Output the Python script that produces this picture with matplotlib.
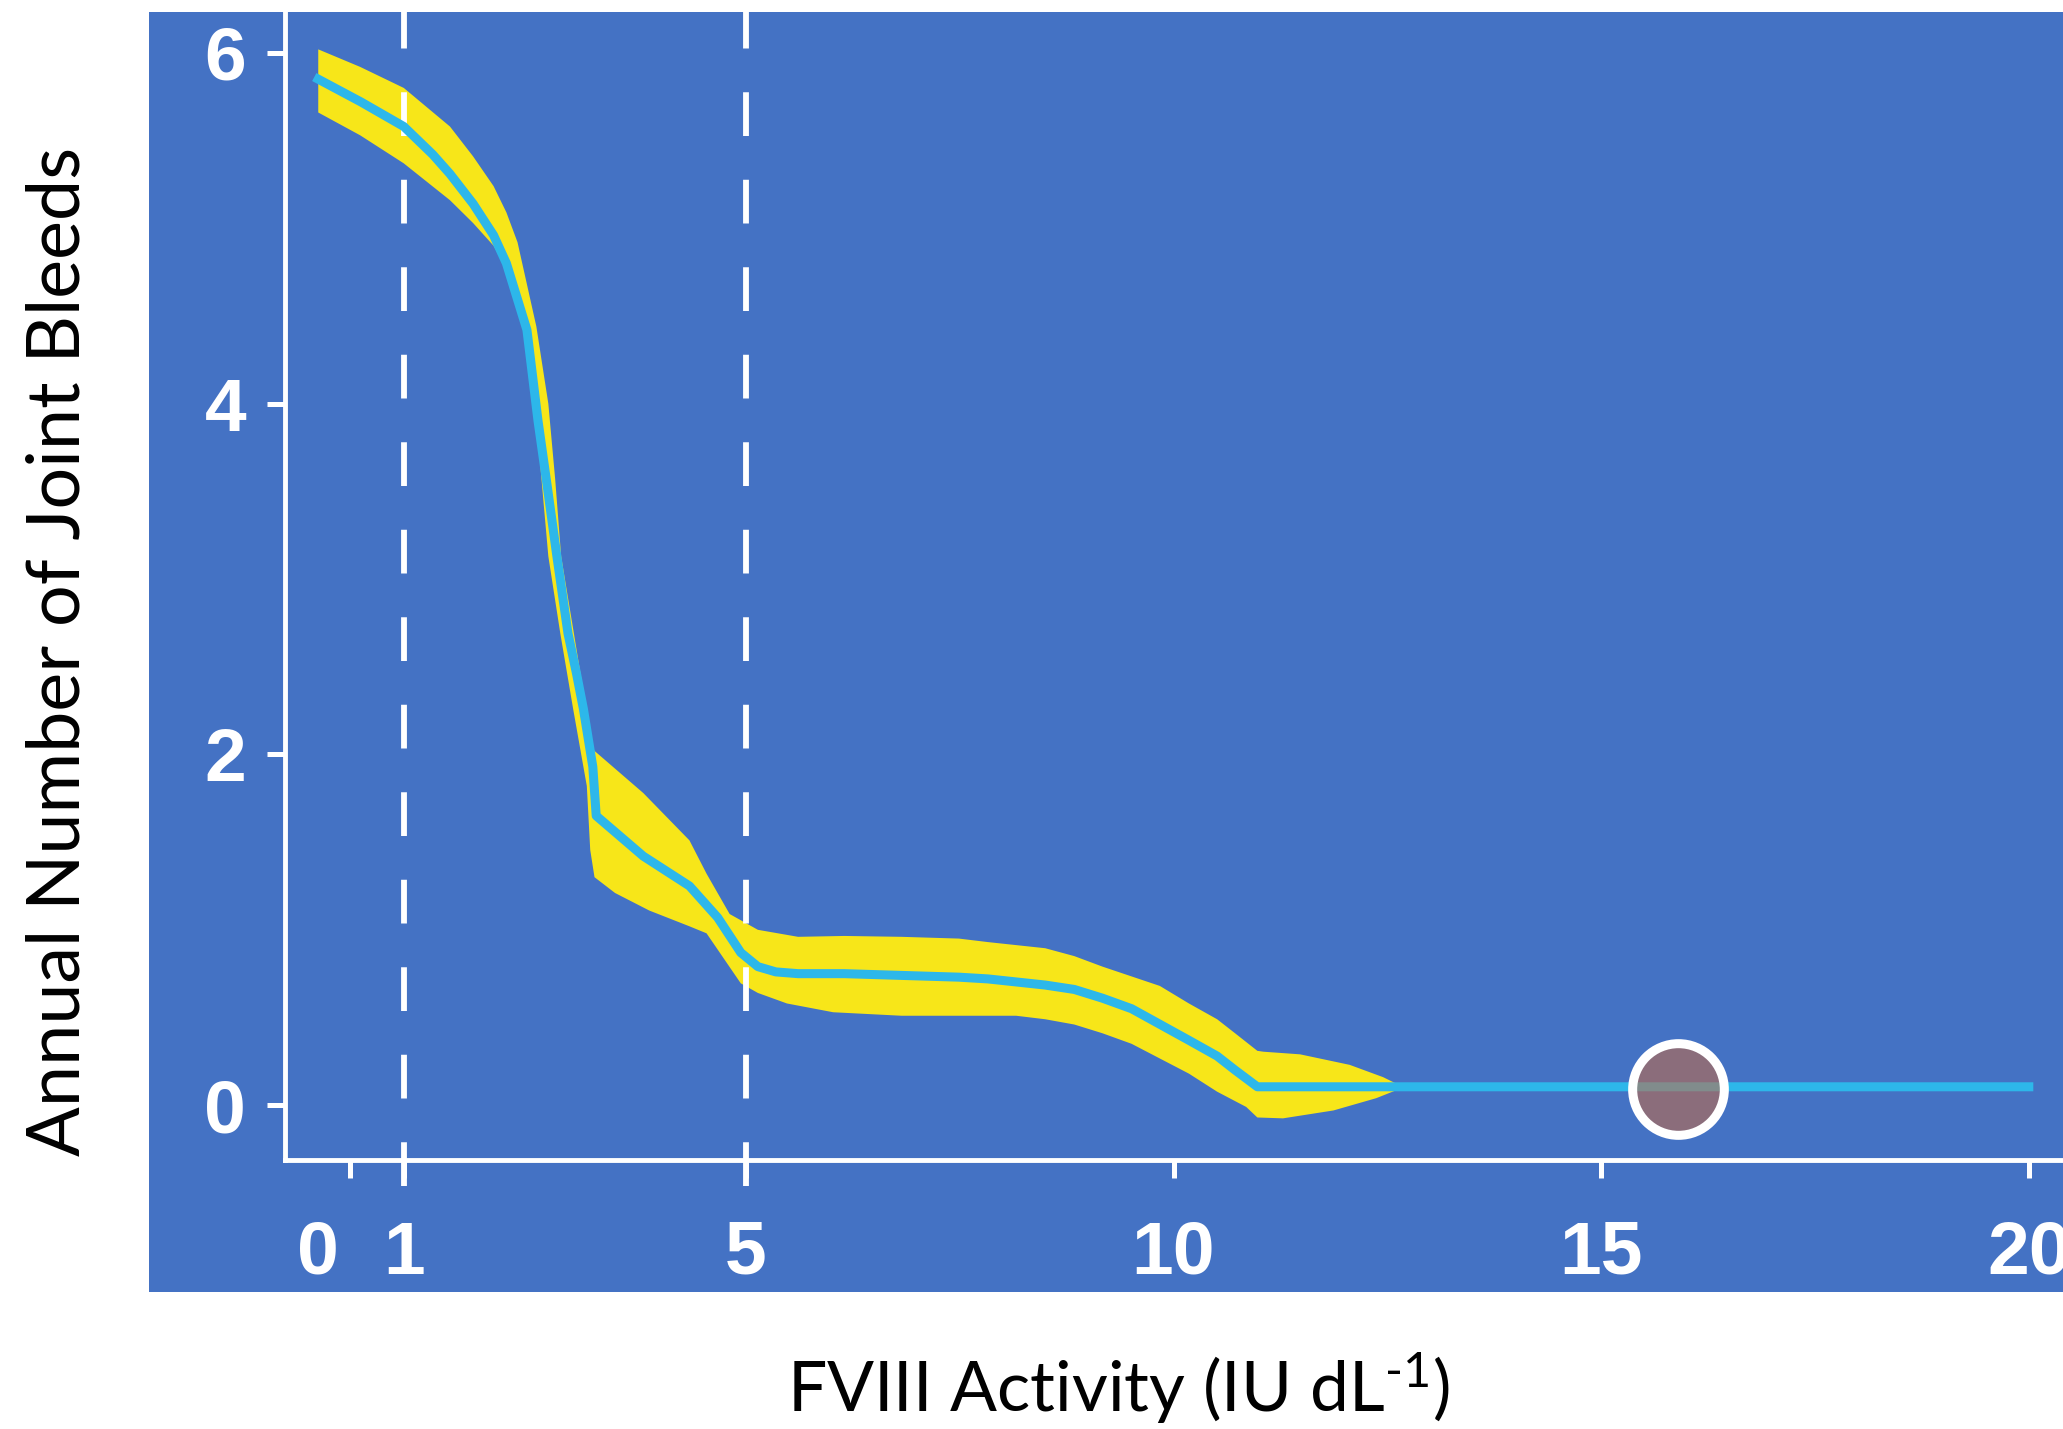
import matplotlib
matplotlib.use("Agg")
import matplotlib.pyplot as plt
from matplotlib.patches import Rectangle

#--------------- Dados -------------------------------------
# linha média (ciano)
mean_x = [0.0, 0.5, 1.0, 1.34, 1.54, 1.81, 2.05, 2.20, 2.44, 2.57, 2.68, 2.79, 2.92, 3.02, 3.10,
          3.21, 3.25, 3.80, 4.34, 4.67, 4.94, 5.14, 5.35, 5.61, 6.15, 6.82, 7.49, 7.83, 8.50,
          8.84, 9.17, 9.51, 10.18, 10.51, 10.72, 10.98, 20.0]
mean_y = [5.85, 5.72, 5.58, 5.42, 5.31, 5.14, 4.96, 4.80, 4.42, 3.90, 3.52, 3.13, 2.69, 2.46, 2.26,
          1.93, 1.65, 1.42, 1.25, 1.07, 0.87, 0.79, 0.76, 0.75, 0.75, 0.74, 0.73, 0.72, 0.685,
          0.66, 0.61, 0.55, 0.37, 0.28, 0.20, 0.105, 0.105]

# banda de incerteza (amarela) - borda superior e inferior
upper_x = [0.0, 0.49, 1.0, 1.54, 1.81, 2.05, 2.20, 2.33, 2.55, 2.69, 2.77, 2.84, 3.06, 3.21, 3.23,
           3.80, 4.34, 4.54, 4.81, 5.14, 5.61, 6.15, 6.82, 7.49, 7.83, 8.50, 8.84, 9.17, 9.84,
           10.18, 10.51, 10.72, 10.98, 11.05, 11.48, 12.06, 12.45, 12.68]
upper_y = [6.02, 5.92, 5.80, 5.58, 5.41, 5.24, 5.09, 4.92, 4.44, 4.00, 3.57, 3.13, 2.48, 2.04, 2.02,
           1.78, 1.51, 1.32, 1.09, 1.00, 0.96, 0.965, 0.96, 0.95, 0.93, 0.895, 0.85, 0.79, 0.68,
           0.58, 0.49, 0.41, 0.31, 0.305, 0.29, 0.23, 0.16, 0.105]
lower_x = [0.0, 0.49, 1.0, 1.54, 1.81, 2.05, 2.20, 2.44, 2.55, 2.61, 2.69, 2.83, 2.98, 3.14, 3.18,
           3.23, 3.47, 3.87, 4.34, 4.54, 4.94, 5.14, 5.48, 6.02, 6.82, 7.49, 8.16, 8.50, 8.84,
           9.17, 9.51, 10.18, 10.51, 10.85, 10.98, 11.28, 11.87, 12.37, 12.68]
lower_y = [5.66, 5.53, 5.37, 5.16, 5.03, 4.90, 4.77, 4.38, 3.92, 3.57, 3.13, 2.69, 2.26, 1.82, 1.455,
           1.30, 1.21, 1.11, 1.02, 0.98, 0.695, 0.64, 0.58, 0.53, 0.51, 0.51, 0.51, 0.49, 0.46,
           0.41, 0.35, 0.18, 0.077, -0.01, -0.07, -0.075, -0.03, 0.04, 0.10]

# ponto destacado
point_x = [15.9]
point_y = [0.09]

# limiares (linhas tracejadas)
thresholds = [1, 5]

x_ticks = [0, 1, 5, 10, 15, 20]
x_ticklabels = ['0', '1', '5', '10', '15', '20']
zero_tick_mark = [0.37]   # no original a marca do 0 está deslocada do rótulo
y_ticks = [0, 2, 4, 6]

BLUE = '#4472C4'
YELLOW = '#F7E619'
CYAN = '#2DB7EA'

plt.rcParams['mathtext.fontset'] = 'custom'
plt.rcParams['mathtext.rm'] = 'Lato'
plt.rcParams['mathtext.it'] = 'Lato'

#--------------- Figura ---------------------
fig = plt.figure(figsize=(20.63, 14.29), dpi=100)
fig.patch.set_facecolor('white')
fig.add_artist(Rectangle((0.0722, 0.0959), 1 - 0.0722, 0.9916 - 0.0959,
                         transform=fig.transFigure, facecolor=BLUE,
                         edgecolor='none', zorder=-5))

ax = fig.add_axes([0.1381, 0.1883, 0.8619, 0.8033])
ax.set_facecolor(BLUE)
ax.set_xlim(-0.39, 20.40)
ax.set_ylim(-0.312, 6.233)

ax.fill(upper_x + lower_x[::-1], upper_y + lower_y[::-1],
        color=YELLOW, lw=0, zorder=2)
for t in thresholds:
    ax.plot([t, t], [-0.023, 1.0], transform=ax.get_xaxis_transform(),
            color='white', lw=4.2, dashes=(7.5, 7.5), solid_capstyle='butt',
            clip_on=False, zorder=3)
ax.plot(mean_x, mean_y, color=CYAN, lw=6.5, solid_joinstyle='round', zorder=4)
ax.plot(point_x, point_y, 'o', ms=66, mfc=(0.78, 0.41, 0.25, 0.55),
        mec='white', mew=6.5, zorder=5)

for s in ['top', 'right']:
    ax.spines[s].set_visible(False)
for s in ['left', 'bottom']:
    ax.spines[s].set_color('white')
    ax.spines[s].set_linewidth(3.5)

ax.set_xticks(x_ticks)
ax.set_xticklabels(x_ticklabels)
ax.set_xticks(zero_tick_mark, minor=True)
ax.xaxis.get_major_ticks()[0].tick1line.set_visible(False)
ax.set_yticks(y_ticks)
ax.tick_params(axis='both', which='both', colors='white', length=13, width=3.6,
               direction='out')
ax.tick_params(axis='x', pad=30)
ax.tick_params(axis='y', pad=15)
for lab in ax.get_xticklabels() + ax.get_yticklabels():
    lab.set_fontfamily('Liberation Sans')
    lab.set_fontweight('bold')
    lab.set_fontsize(54)

fig.text(0.5424, 0.0287, r'FVIII Activity (IU dL$^{\text{-1}}$)', family='Lato',
         fontsize=50, ha='center', va='center', color='black')
fig.text(0.0286, 0.5444, 'Annual Number of Joint Bleeds', family='Lato',
         fontsize=53, ha='center', va='center', rotation=90, color='black')

fig.savefig('out.png', dpi=100)
